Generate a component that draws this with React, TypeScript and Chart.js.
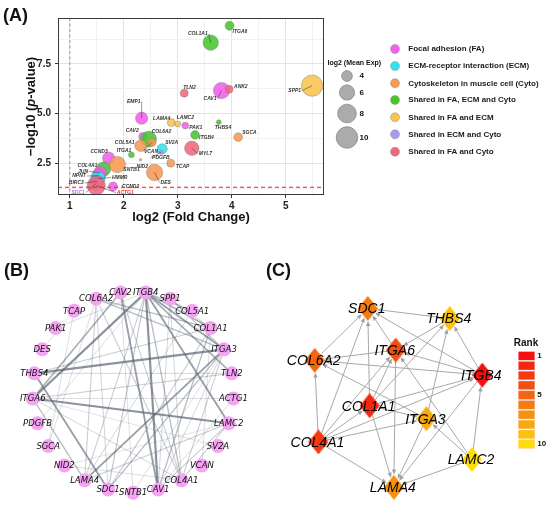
import React, { useEffect, useRef } from 'react';
import { Chart, registerables } from 'chart.js';
Chart.register(...registerables);

const SANS = '"Liberation Sans", Arial, Helvetica, sans-serif';
const VERD = '"DejaVu Sans", Verdana, sans-serif';

// ---------------- Panel A data ----------------
const genes = ['ITGA6','COL1A1','TLN2','CAV1','ANK2','SPP1','EMP1','LAMA4','LAMC2','PAK1','THBS4','ITGB4','SGCA','CAV2','COL6A2','COL5A1','VCAN','SV2A','PDGFB','MYL7','ITGA1','CCND3','NID2','TCAP','DES','SNTB1','COL4A1','JUN','NPNT','HMMR','BIRC3','SDC1','ACTG1','CCND2'];
const log2FC = [3.96,3.61,3.12,3.81,3.95,5.49,2.33,2.88,3.00,3.14,3.76,3.32,4.12,2.35,2.46,2.31,2.52,2.71,2.69,3.26,2.14,1.72,2.31,2.87,2.57,1.88,1.62,1.56,1.53,1.52,1.50,1.49,1.49,1.80];
const negLog10P = [9.42,8.57,6.03,6.16,6.23,6.41,4.77,4.55,4.48,4.40,4.57,3.93,3.82,3.85,3.72,3.39,3.55,3.23,3.06,3.26,2.93,2.76,2.68,2.51,2.04,2.44,2.21,2.02,1.88,1.74,1.60,1.50,1.38,1.34];
const log2MeanExp = [3.4,6.1,3.1,6.6,3.1,9.9,4.6,3.1,2.6,2.8,2.4,3.3,3.3,3.1,6.3,4.3,3.1,3.8,2.3,5.6,2.6,4.6,2.1,3.1,6.6,6.6,5.6,5.0,5.0,5.6,4.6,5.6,7.8,3.4];
const pathwayGroup = ['FA_ECM_Cyto','FA_ECM_Cyto','FA_Cyto','FA','FA_Cyto','FA_ECM','FA','FA_ECM','FA_ECM','FA','FA_ECM_Cyto','FA_ECM_Cyto','Cyto','FA','FA_ECM_Cyto','Cyto','Cyto','ECM','ECM_Cyto','FA_Cyto','FA_ECM_Cyto','FA','Cyto','Cyto','Cyto','Cyto','FA_ECM_Cyto','FA','FA','ECM','FA','ECM_Cyto','FA_Cyto','FA'];

const groupKeys = ['FA','ECM','Cyto','FA_ECM_Cyto','FA_ECM','ECM_Cyto','FA_Cyto'];
const groupNames = ['Focal adhesion (FA)','ECM-receptor interaction (ECM)','Cytoskeleton in muscle cell (Cyto)','Shared in FA, ECM and Cyto','Shared in FA and ECM','Shared in ECM and Cyto','Shared in FA and Cyto'];
const groupColors = ['#f35eee','#2fe4f1','#f79a52','#44c62c','#f8c44c','#a39df2','#f0687c'];

const sizeBreaks = [4, 6, 8, 10];
const xTickLabels = [1, 2, 3, 4, 5];
const yTickLabels = [2.5, 5.0, 7.5];
const fcCutoff = 1;
const pCutoff = 1.3;

// label placement (styling only): dx, dy in px, anchor side
const labelPlace: Record<string, [number, number, 'l' | 'r']> = {
  ITGA6: [3, 6, 'l'], COL1A1: [-3, -8.7, 'r'], TLN2: [-1, -6, 'l'], CAV1: [-5, 8, 'r'], ANK2: [5, -3, 'l'],
  SPP1: [-11, 5, 'r'], EMP1: [-1, -16.6, 'r'], LAMA4: [-1, -4.4, 'r'], LAMC2: [-1, -6.7, 'l'], PAK1: [4, 1.6, 'l'],
  THBS4: [-4, 5, 'l'], ITGB4: [4, 2.3, 'l'], SGCA: [4, -5, 'l'], CAV2: [-4, -6, 'r'], COL6A2: [3, -7.6, 'l'],
  COL5A1: [-6, -3, 'r'], VCAN: [-8, 9, 'l'], SV2A: [3, -6.3, 'l'], PDGFB: [-9, 5.4, 'l'], MYL7: [7, 5.7, 'l'],
  ITGA1: [0, -4, 'r'], CCND3: [-1, -6.6, 'r'], NID2: [-4, 6.7, 'l'], TCAP: [5, 3.4, 'l'], DES: [6, 10, 'l'],
  SNTB1: [6, 5.3, 'l'], COL4A1: [-6, -3.6, 'r'], JUN: [-12, -1.6, 'r'], NPNT: [-12.6, 0.3, 'r'], HMMR: [14, -1, 'l'],
  BIRC3: [-13, 1.7, 'r'], SDC1: [-11.5, 9.3, 'r'], ACTG1: [20.5, 7, 'l'], CCND2: [9, 0, 'l'],
};
const labelColor: Record<string, string> = { SDC1: '#c266f2', ACTG1: '#ff2a2a' };

// ---------------- Panel B data ----------------
const netGenes = ['ITGB4','SPP1','COL5A1','COL1A1','ITGA3','TLN2','ACTG1','LAMC2','SV2A','VCAN','COL4A1','CAV1','SNTB1','SDC1','LAMA4','NID2','SGCA','PDGFB','ITGA6','THBS4','DES','PAK1','TCAP','COL6A2','CAV2'];
const netEdgeFrom = ['ITGB4','ITGB4','ITGA3','ITGA6','ITGA3','ITGB4','CAV2','CAV2','THBS4','ITGB4','ITGB4','ITGB4','COL6A2','COL6A2','ITGB4','SPP1','SPP1','COL1A1','ITGA3','ITGA6','TLN2','COL1A1','ITGB4','ITGB4','ITGB4','LAMC2','LAMC2','LAMC2','COL4A1','COL4A1','CAV2','SPP1','COL6A2','COL6A2','COL6A2','TCAP','TCAP','NID2','NID2','PDGFB','ITGA6','THBS4','SNTB1','SNTB1','VCAN','SV2A','ACTG1','COL5A1','COL1A1','ITGA3','ITGA3','SPP1','PAK1'];
const netEdgeTo = ['ITGA6','CAV1','THBS4','LAMC2','LAMA4','LAMC2','CAV1','ITGA6','SDC1','ITGA3','TLN2','COL1A1','COL1A1','ITGA3','COL5A1','ITGA3','COL1A1','CAV1','SDC1','LAMA4','ITGA6','THBS4','COL4A1','SDC1','LAMA4','COL4A1','CAV1','LAMA4','COL6A2','ITGA6','COL4A1','COL4A1','SDC1','LAMA4','SGCA','SGCA','DES','COL4A1','LAMC2','ITGB4','ACTG1','TLN2','ITGA3','CAV2','COL1A1','ITGA6','CAV1','LAMA4','SDC1','COL4A1','CAV1','CAV1','ITGB4'];
const netEdgeWeight = [3,3,3,3,2.5,2.5,2.5,2,2.5,2.5,2,2,1.5,1.5,1.5,1.2,1,1.5,1.5,1.5,1,1,1.5,1.2,1,1,1,1,1,0.8,1,0.8,0.8,1,0.6,0.6,0.5,0.6,0.5,0.6,0.6,0.8,0.6,0.6,0.6,0.5,0.6,0.8,1,1,0.8,0.8,0.6];

// ---------------- Panel C data ----------------
const hubGenes = ['SDC1','THBS4','ITGA6','COL6A2','ITGB4','COL1A1','ITGA3','COL4A1','LAMC2','LAMA4'];
const hubRank = [6, 9, 4, 5, 1, 2, 8, 3, 10, 7];
const hubLayoutX = [105, 193, 135, 48, 228, 107, 168, 52, 217, 133];
const hubLayoutY = [63, 74, 108, 119, 135, 168, 182, 207, 226, 256];
const hubEdgeFrom = ['THBS4','ITGB4','ITGA6','COL6A2','COL4A1','COL1A1','ITGB4','ITGA3','COL1A1','THBS4','ITGA6','ITGB4','ITGB4','COL1A1','COL4A1','ITGA6','LAMC2','COL4A1','ITGA3','COL4A1','COL4A1','COL1A1','COL4A1','COL1A1','COL1A1','COL4A1','ITGA3','ITGB4','LAMC2','LAMC2','LAMC2'];
const hubEdgeTo = ['SDC1','SDC1','SDC1','SDC1','SDC1','SDC1','THBS4','THBS4','THBS4','ITGA6','COL6A2','COL6A2','ITGA6','ITGA6','ITGA6','LAMA4','ITGA6','COL6A2','COL6A2','COL1A1','ITGB4','ITGB4','ITGA3','ITGA3','LAMA4','LAMA4','LAMA4','LAMA4','LAMA4','ITGA3','ITGB4'];
const rankPalette = ['#f70e0e','#f4260f','#f23c10','#f24f11','#f36511','#f47b10','#f6930e','#f8aa0c','#fbc20a','#ffdc06'];
const rankLegendLabels = [1, 5, 10];

// ---------------- helpers ----------------
function hexToRgba(hex: string, a: number) {
  const n = parseInt(hex.slice(1), 16);
  return `rgba(${(n >> 16) & 255},${(n >> 8) & 255},${n & 255},${a})`;
}
function sizeFor(v: number) { return Math.sqrt(Math.max(0.3, 14.5 * (v - 2))); }
function near(v: number, arr: number[]) { return arr.some((a) => Math.abs(a - v) < 1e-6); }
function txt(ctx: CanvasRenderingContext2D, s: string, x: number, y: number, font: string, color: string, align: CanvasTextAlign = 'left', base: CanvasTextBaseline = 'alphabetic') {
  ctx.font = font; ctx.fillStyle = color; ctx.textAlign = align; ctx.textBaseline = base; ctx.fillText(s, x, y);
}

const panelAPlugin = {
  id: 'panelA',
  beforeDatasetsDraw(chart: any) {
    const { ctx, chartArea: ca, scales } = chart;
    ctx.save();
    ctx.beginPath(); ctx.rect(ca.left, ca.top, ca.right - ca.left, ca.bottom - ca.top); ctx.clip();
    ctx.strokeStyle = '#808080'; ctx.lineWidth = 0.8; ctx.setLineDash([3, 2.5]);
    const px = scales.x.getPixelForValue(fcCutoff);
    ctx.beginPath(); ctx.moveTo(px, ca.top); ctx.lineTo(px, ca.bottom); ctx.stroke();
    ctx.restore();
  },
  afterDatasetsDraw(chart: any) {
    const { ctx, chartArea: ca, scales } = chart;
    const meta = chart.getDatasetMeta(0);
    ctx.save();
    genes.forEach((g, i) => {
      const el = meta.data[i];
      const p = labelPlace[g] || [3, -5, 'l'];
      const lx = el.x + p[0], ly = el.y + p[1];
      if (Math.hypot(p[0], p[1]) > 9) {
        ctx.strokeStyle = '#333'; ctx.lineWidth = 0.5; ctx.setLineDash([]);
        ctx.beginPath(); ctx.moveTo(el.x, el.y); ctx.lineTo(lx + (p[2] === 'r' ? 1 : -1), ly); ctx.stroke();
      }
      txt(ctx, g, lx, ly, `italic bold 5px ${SANS}`, labelColor[g] || '#333', p[2] === 'r' ? 'right' : 'left', 'middle');
    });
    ctx.save();
    ctx.beginPath(); ctx.rect(ca.left, ca.top, ca.right - ca.left, ca.bottom - ca.top); ctx.clip();
    ctx.strokeStyle = '#ff1a1a'; ctx.lineWidth = 1.1; ctx.setLineDash([4, 3]);
    const py = scales.y.getPixelForValue(pCutoff);
    ctx.beginPath(); ctx.moveTo(ca.left, py); ctx.lineTo(ca.right, py); ctx.stroke();
    ctx.restore();
    ctx.setLineDash([]);
    ctx.strokeStyle = '#3a3a3a'; ctx.lineWidth = 1;
    ctx.strokeRect(ca.left + 0.5, ca.top + 0.5, ca.right - ca.left - 1, ca.bottom - ca.top - 1);
    txt(ctx, 'log2 (Fold Change)', (ca.left + ca.right) / 2, 221, `bold 13px ${SANS}`, '#111', 'center');
    const parts: [string, string][] = [['−log10 (', `bold 13px ${SANS}`], ['p', `italic bold 13px ${SANS}`], ['-value)', `bold 13px ${SANS}`]];
    let tot = 0;
    const ws = parts.map(([s, f]) => { ctx.font = f; const w = ctx.measureText(s).width; tot += w; return w; });
    ctx.save();
    ctx.translate(34.5, (ca.top + ca.bottom) / 2); ctx.rotate(-Math.PI / 2);
    let xx = -tot / 2;
    parts.forEach(([s, f], k) => { txt(ctx, s, xx, 0, f, '#111', 'left'); xx += ws[k]; });
    ctx.restore();
    txt(ctx, '(A)', 3, 21, `bold 18px ${SANS}`, '#111');
    txt(ctx, 'log2 (Mean Exp)', 327.5, 64.5, `bold 7px ${SANS}`, '#111');
    const sy = [76, 92.5, 113.5, 137.5];
    sizeBreaks.forEach((v, k) => {
      ctx.beginPath(); ctx.arc(347, sy[k], sizeFor(v), 0, Math.PI * 2);
      ctx.fillStyle = '#ababab'; ctx.fill(); ctx.strokeStyle = '#7f7f7f'; ctx.lineWidth = 0.7; ctx.stroke();
      txt(ctx, String(v), 359.5, sy[k], `bold 8px ${SANS}`, '#111', 'left', 'middle');
    });
    const cy = [49, 66, 83.3, 100, 117.3, 134.3, 151.7];
    groupNames.forEach((nm, k) => {
      ctx.beginPath(); ctx.arc(395, cy[k], 4.5, 0, Math.PI * 2);
      ctx.fillStyle = groupColors[k]; ctx.fill(); ctx.strokeStyle = 'rgba(140,140,140,0.8)'; ctx.lineWidth = 0.6; ctx.stroke();
      txt(ctx, nm, 408.3, cy[k], `bold 8px ${SANS}`, '#1a1a1a', 'left', 'middle');
    });
    ctx.restore();
  },
};

const panelBPlugin = {
  id: 'panelB',
  beforeDatasetsDraw(chart: any) {
    const { ctx } = chart;
    const meta = chart.getDatasetMeta(0);
    const idx = netEdgeFrom.map((_, k) => k).sort((a, b) => netEdgeWeight[a] - netEdgeWeight[b]);
    ctx.save();
    ctx.lineCap = 'round';
    idx.forEach((k) => {
      const a = meta.data[netGenes.indexOf(netEdgeFrom[k])];
      const b = meta.data[netGenes.indexOf(netEdgeTo[k])];
      const w = netEdgeWeight[k];
      ctx.strokeStyle = `rgba(84,94,110,${Math.min(0.68, 0.14 + 0.18 * w)})`;
      ctx.lineWidth = 0.5 + w * 0.55;
      ctx.beginPath(); ctx.moveTo(a.x, a.y); ctx.lineTo(b.x, b.y); ctx.stroke();
    });
    ctx.restore();
  },
  afterDatasetsDraw(chart: any) {
    const { ctx } = chart;
    const meta = chart.getDatasetMeta(0);
    ctx.save();
    netGenes.forEach((g, i) => {
      const el = meta.data[i];
      txt(ctx, g, el.x, el.y + 0.5, `italic 8.5px ${VERD}`, '#111', 'center', 'middle');
    });
    txt(ctx, '(B)', 4, 36, `bold 18px ${SANS}`, '#111');
    ctx.restore();
  },
};

const panelCPlugin = {
  id: 'panelC',
  beforeDatasetsDraw(chart: any) {
    const { ctx } = chart;
    const meta = chart.getDatasetMeta(0);
    const hw = 10, hh = 12.5;
    ctx.save();
    hubEdgeFrom.forEach((f, k) => {
      const a = meta.data[hubGenes.indexOf(f)];
      const b = meta.data[hubGenes.indexOf(hubEdgeTo[k])];
      const dx = b.x - a.x, dy = b.y - a.y, L = Math.hypot(dx, dy);
      const ux = dx / L, uy = dy / L;
      const t = 1 / (Math.abs(ux) / hw + Math.abs(uy) / hh);
      const tx = b.x - ux * (t + 0.5), ty = b.y - uy * (t + 0.5);
      const hl = 5, hwid = 2.2;
      ctx.strokeStyle = '#a8a8a8'; ctx.lineWidth = 1;
      ctx.beginPath(); ctx.moveTo(a.x, a.y); ctx.lineTo(tx - ux * hl, ty - uy * hl); ctx.stroke();
      ctx.fillStyle = '#a0a0a0';
      ctx.beginPath();
      ctx.moveTo(tx, ty);
      ctx.lineTo(tx - ux * hl - uy * hwid, ty - uy * hl + ux * hwid);
      ctx.lineTo(tx - ux * hl + uy * hwid, ty - uy * hl - ux * hwid);
      ctx.closePath(); ctx.fill();
    });
    ctx.restore();
  },
  afterDatasetsDraw(chart: any) {
    const { ctx } = chart;
    const meta = chart.getDatasetMeta(0);
    ctx.save();
    hubGenes.forEach((g, i) => {
      const el = meta.data[i];
      txt(ctx, g, el.x - 1, el.y + 1, `italic 14px ${SANS}`, '#000', 'center', 'middle');
    });
    txt(ctx, '(C)', 6, 36, `bold 18px ${SANS}`, '#111');
    txt(ctx, 'Rank', 266, 106, `bold 10px ${SANS}`, '#111', 'center');
    const top = 111, bh = 9.8, left = 258.3, bw = 16.5;
    rankPalette.forEach((c, k) => {
      ctx.fillStyle = c;
      ctx.fillRect(left, top + k * bh + 0.6, bw, bh - 1.2);
      ctx.strokeStyle = 'rgba(255,200,200,0.7)'; ctx.lineWidth = 0.5;
      ctx.strokeRect(left, top + k * bh + 0.6, bw, bh - 1.2);
    });
    rankLegendLabels.forEach((r) => {
      txt(ctx, String(r), left + bw + 2.5, top + (r - 0.5) * bh, `bold 8px ${SANS}`, '#111', 'left', 'middle');
    });
    ctx.restore();
  },
};

function makeDiamond(color: string) {
  const c = document.createElement('canvas');
  c.width = 20; c.height = 25;
  const g = c.getContext('2d')!;
  g.fillStyle = color;
  g.beginPath(); g.moveTo(10, 0); g.lineTo(20, 12.5); g.lineTo(10, 25); g.lineTo(0, 12.5); g.closePath(); g.fill();
  return c;
}

export default function App() {
  const aRef = useRef<HTMLCanvasElement>(null);
  const bRef = useRef<HTMLCanvasElement>(null);
  const cRef = useRef<HTMLCanvasElement>(null);

  useEffect(() => {
    const tickFont = { family: SANS, size: 10, weight: 'bold' as const };
    const chartA = new Chart(aRef.current!, {
      type: 'bubble',
      data: {
        datasets: [{
          data: genes.map((_, i) => ({ x: log2FC[i], y: negLog10P[i], r: sizeFor(log2MeanExp[i]) })),
          backgroundColor: pathwayGroup.map((k) => hexToRgba(groupColors[groupKeys.indexOf(k)], 0.88)),
          borderColor: 'rgba(128,128,128,0.75)',
          borderWidth: 0.6,
          hoverRadius: 0,
        }],
      },
      options: {
        responsive: false, animation: false,
        layout: { padding: { left: 0, top: 18, right: 226, bottom: 0 } },
        plugins: { legend: { display: false }, tooltip: { enabled: false } },
        scales: {
          x: {
            type: 'linear', min: 0.78, max: 5.71,
            afterFit: (s: any) => { s.height = 45; },
            border: { display: false },
            grid: {
              color: (c: any) => (near(c.tick?.value, xTickLabels) ? '#e4e4e4' : '#f1f1f1'),
              tickColor: (c: any) => (near(c.tick?.value, xTickLabels) ? '#333' : 'rgba(0,0,0,0)'),
              tickLength: 3,
            },
            ticks: {
              stepSize: 0.5, includeBounds: false, autoSkip: false, maxRotation: 0, padding: 2,
              color: '#222', font: tickFont,
              callback: (v: any) => (near(Number(v), xTickLabels) ? String(Number(v)) : ''),
            },
          },
          y: {
            type: 'linear', min: 0.91, max: 9.81,
            afterFit: (s: any) => { s.width = 58; },
            border: { display: false },
            grid: {
              color: (c: any) => (near(c.tick?.value, yTickLabels) ? '#e4e4e4' : '#f1f1f1'),
              tickColor: (c: any) => (near(c.tick?.value, yTickLabels) ? '#333' : 'rgba(0,0,0,0)'),
              tickLength: 3,
            },
            ticks: {
              stepSize: 1.25, includeBounds: false, autoSkip: false, padding: 4,
              color: '#222', font: tickFont,
              callback: (v: any) => (near(Number(v), yTickLabels) ? Number(v).toFixed(1) : ''),
            },
          },
        },
      },
      plugins: [panelAPlugin],
    });

    const R = 106;
    const cxB = 133, cyB = 153;
    const step = 360 / netGenes.length;
    const chartB = new Chart(bRef.current!, {
      type: 'scatter',
      data: {
        datasets: [{
          data: netGenes.map((_, i) => {
            const th = ((step / 2 + step * i) * Math.PI) / 180;
            return { x: Math.sin(th), y: Math.cos(th) };
          }),
          pointRadius: 7, pointHoverRadius: 7,
          backgroundColor: '#f5a3f3', borderWidth: 0, clip: false as any,
        }],
      },
      options: {
        responsive: false, animation: false,
        layout: { padding: 0 },
        plugins: { legend: { display: false }, tooltip: { enabled: false } },
        scales: {
          x: { display: false, min: -cxB / R, max: (270 - cxB) / R },
          y: { display: false, min: -(274 - cyB) / R, max: cyB / R },
        },
      },
      plugins: [panelBPlugin],
    });

    const chartC = new Chart(cRef.current!, {
      type: 'scatter',
      data: {
        datasets: [{
          data: hubGenes.map((_, i) => ({ x: hubLayoutX[i], y: hubLayoutY[i] })),
          pointStyle: hubRank.map((r) => makeDiamond(rankPalette[r - 1])) as any,
          pointRadius: 10, pointHoverRadius: 10, borderWidth: 0, clip: false as any,
        }],
      },
      options: {
        responsive: false, animation: false,
        layout: { padding: 0 },
        plugins: { legend: { display: false }, tooltip: { enabled: false } },
        scales: {
          x: { display: false, min: 0, max: 290 },
          y: { display: false, min: 0, max: 274, reverse: true },
        },
      },
      plugins: [panelCPlugin],
    });

    return () => { chartA.destroy(); chartB.destroy(); chartC.destroy(); };
  }, []);

  return (
    <div style={{ position: 'absolute', left: 0, top: 0, width: 550, height: 514, background: '#fff', overflow: 'hidden' }}>
      <canvas ref={aRef} width={550} height={240} style={{ position: 'absolute', left: 0, top: 0 }} />
      <canvas ref={bRef} width={270} height={274} style={{ position: 'absolute', left: 0, top: 240 }} />
      <canvas ref={cRef} width={290} height={274} style={{ position: 'absolute', left: 260, top: 240 }} />
    </div>
  );
}
